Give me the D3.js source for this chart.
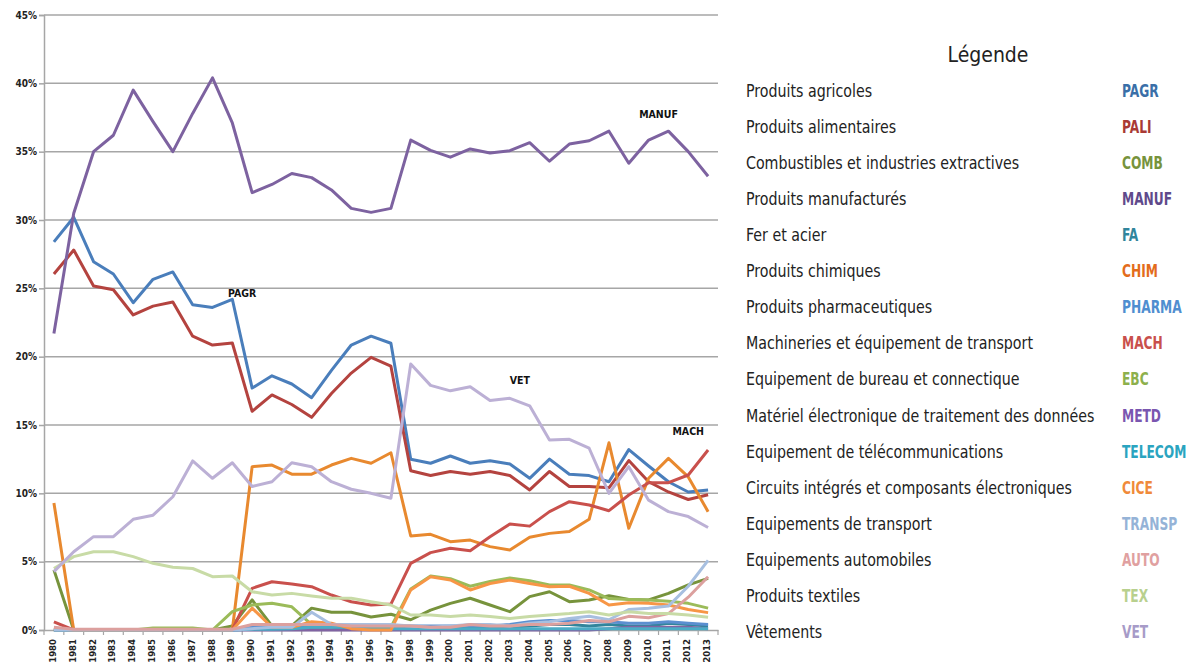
<!DOCTYPE html>
<html>
<head>
<meta charset="utf-8">
<script src="https://cdn.jsdelivr.net/npm/d3@7"></script>
<style>
  body { margin: 0; background: #fff; }
  svg { display: block; font-family: "DejaVu Sans Condensed", "Liberation Sans Narrow", sans-serif; }
</style>
</head>
<body>
<div id="chart"></div>
<script>
// years on the x axis
var years = ["1980","1981","1982","1983","1984","1985","1986","1987","1988","1989",
  "1990","1991","1992","1993","1994","1995","1996","1997","1998","1999",
  "2000","2001","2002","2003","2004","2005","2006","2007","2008","2009",
  "2010","2011","2012","2013"];

var yTicks = [0, 5, 10, 15, 20, 25, 30, 35, 40, 45];

// shares in %
var pagr = [28.4,30.2,26.95,26.05,23.95,25.66,26.2,23.8,23.6,24.2,17.7,18.6,18.0,17.0,19.0,20.85,21.5,20.98,12.5,12.2,12.73,12.2,12.39,12.15,11.1,12.5,11.4,11.3,10.85,13.2,12.0,10.85,10.1,10.25];
var pali = [26.05,27.8,25.17,24.9,23.05,23.7,24.0,21.5,20.85,21.0,16.0,17.2,16.5,15.56,17.3,18.8,19.95,19.3,11.65,11.3,11.6,11.4,11.6,11.3,10.25,11.6,10.5,10.5,10.4,12.4,10.85,10.1,9.55,9.9];
var comb = [4.4,0,0,0,0,0,0,0,0,0.3,2.2,0.3,0.3,1.6,1.3,1.3,0.95,1.15,0.75,1.46,1.95,2.32,1.83,1.34,2.44,2.8,2.07,2.2,2.5,2.24,2.2,2.68,3.3,3.78];
var manuf = [21.7,30.5,35.0,36.2,39.5,37.2,35.0,37.8,40.4,37.1,32.0,32.6,33.4,33.1,32.2,30.85,30.56,30.85,35.85,35.1,34.6,35.2,34.9,35.07,35.66,34.3,35.56,35.8,36.5,34.15,35.85,36.5,35.0,33.2];
var fa = [0,0,0,0,0,0,0,0,0,0,0.1,0.1,0.1,0.2,0.2,0.1,0.1,0.1,0.1,0.1,0.1,0.2,0.2,0.2,0.3,0.4,0.4,0.3,0.4,0.3,0.3,0.5,0.4,0.3];
var chim = [9.3,0,0,0,0,0,0,0,0,0,11.95,12.07,11.4,11.4,12.07,12.56,12.2,12.97,6.88,7.0,6.46,6.58,6.1,5.85,6.78,7.07,7.2,8.1,13.7,7.44,11.1,12.56,11.2,8.66];
var pharma = [0,0,0,0,0,0,0,0,0,0,0.2,0.3,0.3,0.3,0.3,0.3,0.3,0.3,0.3,0.3,0.3,0.3,0.3,0.4,0.6,0.7,0.7,0.6,0.6,0.5,0.5,0.6,0.5,0.4];
var mach = [0.6,0,0,0,0,0,0,0,0,0,3.05,3.53,3.37,3.17,2.56,2.07,1.83,1.9,4.88,5.66,5.98,5.8,6.83,7.76,7.6,8.66,9.39,9.15,8.73,9.88,10.78,10.78,11.34,13.17];
var ebc = [0,0,0,0,0,0.15,0.15,0.15,0,1.34,1.83,1.95,1.7,0.4,0.3,0.3,0.2,0.2,3.0,3.95,3.75,3.2,3.55,3.8,3.6,3.3,3.3,2.93,2.3,2.24,2.2,2.1,1.95,1.6];
var metd = [0,0,0,0,0,0,0,0,0,0,0,0,0,0,0,0,0,0,0,0,0,0,0,0,0,0,0,0,0.1,0.2,0.2,0.2,0.2,0.1];
var telecom = [0,0,0,0,0,0,0,0,0,0,0.05,0.05,0.1,0.2,0.2,0.2,0.1,0.1,0.1,0.1,0.1,0.1,0.1,0.1,0.1,0.1,0.1,0.1,0.1,0.1,0.1,0.1,0.1,0.1];
var cice = [0.1,0,0,0,0,0,0,0,0,0,1.6,0.2,0.2,0.6,0.5,0.1,0,0,2.93,3.9,3.66,2.93,3.4,3.66,3.4,3.17,3.2,2.68,1.83,2.0,1.95,1.83,1.5,1.27];
var transp = [0,0,0,0,0,0,0,0,0,0,0.1,0.2,0.2,1.3,0.4,0.4,0.4,0.4,0.3,0.2,0.3,0.4,0.4,0.3,0.5,0.6,0.85,1.0,0.75,1.5,1.6,1.75,3.2,5.1];
var auto = [0.2,0.05,0.05,0.05,0.05,0.05,0.05,0.05,0.05,0.05,0.4,0.4,0.4,0.4,0.4,0.3,0.3,0.3,0.3,0.2,0.2,0.4,0.3,0.3,0.4,0.4,0.5,0.7,0.6,1.0,0.9,1.2,2.4,3.9];
var tex = [4.5,5.37,5.73,5.73,5.37,4.88,4.59,4.5,3.9,3.95,2.8,2.56,2.68,2.49,2.32,2.32,2.07,1.83,1.1,1.1,0.98,1.1,0.98,0.85,0.98,1.1,1.2,1.34,1.1,1.34,1.2,1.2,1.1,0.93];
var vet = [4.27,5.73,6.83,6.83,8.1,8.4,9.75,12.37,11.1,12.24,10.5,10.85,12.24,11.95,10.85,10.3,10.0,9.64,19.46,17.9,17.5,17.8,16.8,16.95,16.4,13.9,13.95,13.3,10.0,11.95,9.5,8.66,8.3,7.5];

var series = [
  {code: "PAGR", name: "Produits agricoles", values: pagr, line: "#4a7ebb", text: "#3a6fa8"},
  {code: "PALI", name: "Produits alimentaires", values: pali, line: "#b4433f", text: "#a93a35"},
  {code: "COMB", name: "Combustibles et industries extractives", values: comb, line: "#77933c", text: "#77933c"},
  {code: "MANUF", name: "Produits manufacturés", values: manuf, line: "#7d62a0", text: "#5f4a8b"},
  {code: "FA", name: "Fer et acier", values: fa, line: "#31859c", text: "#31859c"},
  {code: "CHIM", name: "Produits chimiques", values: chim, line: "#e8892f", text: "#e36c1b"},
  {code: "PHARMA", name: "Produits pharmaceutiques", values: pharma, line: "#5b8fd0", text: "#4f8ed0"},
  {code: "MACH", name: "Machineries et équipement de transport", values: mach, line: "#c9504c", text: "#c9504c"},
  {code: "EBC", name: "Equipement de bureau et connectique", values: ebc, line: "#9bbb59", text: "#8db04c"},
  {code: "METD", name: "Matériel électronique de traitement des données", values: metd, line: "#8064a2", text: "#7a56b0"},
  {code: "TELECOM", name: "Equipement de télécommunications", values: telecom, line: "#4bacc6", text: "#2aa4c0"},
  {code: "CICE", name: "Circuits intégrés et composants électroniques", values: cice, line: "#f79646", text: "#f08a3a"},
  {code: "TRANSP", name: "Equipements de transport", values: transp, line: "#a7bfe0", text: "#95b3d7"},
  {code: "AUTO", name: "Equipements automobiles", values: auto, line: "#dca09e", text: "#e0a0a0"},
  {code: "TEX", name: "Produits textiles", values: tex, line: "#c8dba6", text: "#b8d08e"},
  {code: "VET", name: "Vêtements", values: vet, line: "#bcb0d5", text: "#a79bc8"}
];

// labels written inside the plot (year where they sit, value of their baseline)
var inlineLabels = [
  {code: "PAGR", year: "1990", edge: true, value: 24.4},
  {code: "MANUF", year: "2011", edge: true, value: 37.5},
  {code: "VET", year: "2004", edge: true, value: 18.0},
  {code: "MACH", year: "2012", edge: false, value: 14.3}
];

var width = 1188, height = 663;
var plotLeft = 44, plotRight = 718, plotTop = 15, plotBottom = 630;

var svg = d3.select("#chart").append("svg")
  .attr("width", width)
  .attr("height", height);

var x = d3.scaleBand().domain(years).range([plotLeft, plotRight]);
var y = d3.scaleLinear().domain([0, 45]).range([plotBottom, plotTop]);

/* grid lines */
svg.append("g")
  .selectAll("line")
  .data(yTicks.slice(1))
  .enter().append("line")
  .attr("x1", plotLeft).attr("x2", plotRight)
  .attr("y1", function (d) { return y(d); })
  .attr("y2", function (d) { return y(d); })
  .attr("stroke", "#a6a6a6")
  .attr("stroke-width", 1.5);

/* y axis */
var yAxis = svg.append("g")
  .attr("transform", "translate(" + plotLeft + ",0)")
  .call(d3.axisLeft(y).tickValues(yTicks).tickSize(5).tickFormat(function (d) { return d + "%"; }));
yAxis.select(".domain").attr("stroke", "#a6a6a6").attr("stroke-width", 1.5);
yAxis.selectAll(".tick line").attr("stroke", "#a6a6a6").attr("stroke-width", 1.5);
yAxis.selectAll("text")
  .attr("font-family", "'DejaVu Sans Condensed', sans-serif")
  .attr("font-size", 10)
  .attr("font-weight", "bold")
  .attr("fill", "#222")
  .attr("x", -7);

/* x axis */
var xAxis = svg.append("g")
  .attr("transform", "translate(0," + plotBottom + ")")
  .call(d3.axisBottom(x).tickSize(0));
xAxis.select(".domain").attr("stroke", "#a6a6a6").attr("stroke-width", 1.5);
xAxis.selectAll("text")
  .attr("font-family", "'DejaVu Sans Condensed', sans-serif")
  .attr("font-size", 9.5)
  .attr("font-weight", "bold")
  .attr("fill", "#222")
  .attr("transform", "rotate(-90)")
  .attr("text-anchor", "end")
  .attr("x", -9)
  .attr("y", -1)
  .attr("dy", "0.32em");

// small ticks between the years
svg.append("g")
  .selectAll("line")
  .data(years.concat(["end"]))
  .enter().append("line")
  .attr("x1", function (d, i) { return plotLeft + i * x.step(); })
  .attr("x2", function (d, i) { return plotLeft + i * x.step(); })
  .attr("y1", plotBottom)
  .attr("y2", plotBottom + 5)
  .attr("stroke", "#a6a6a6")
  .attr("stroke-width", 1.2);

/* series lines */
var line = d3.line()
  .x(function (d, i) { return x(years[i]) + x.bandwidth() / 2; })
  .y(function (d) { return y(d); });

svg.append("g")
  .selectAll("path")
  .data(series)
  .enter().append("path")
  .attr("d", function (d) { return line(d.values); })
  .attr("fill", "none")
  .attr("stroke", function (d) { return d.line; })
  .attr("stroke-width", 3)
  .attr("stroke-linejoin", "round");

/* inline labels */
svg.append("g")
  .selectAll("text")
  .data(inlineLabels)
  .enter().append("text")
  .attr("x", function (d) { return d.edge ? x(d.year) : x(d.year) + x.bandwidth() / 2; })
  .attr("y", function (d) { return y(d.value); })
  .attr("text-anchor", "middle")
  .attr("font-size", 10.5)
  .attr("font-weight", "bold")
  .attr("fill", "#111")
  .text(function (d) { return d.code; });

/* legend */
var legend = svg.append("g");
legend.append("text")
  .attr("x", 988)
  .attr("y", 62)
  .attr("text-anchor", "middle")
  .attr("font-size", 21)
  .attr("fill", "#222")
  .text("Légende");

var rowY = d3.scalePoint().domain(series.map(function (d) { return d.code; })).range([91, 632]);

var rows = legend.selectAll("g.row")
  .data(series)
  .enter().append("g")
  .attr("class", "row")
  .attr("transform", function (d) { return "translate(0," + rowY(d.code) + ")"; });

// the original font is narrower: squeeze the texts horizontally
rows.append("text")
  .attr("transform", "translate(746,0) scale(0.93,1)")
  .attr("dy", "0.35em")
  .attr("font-size", 17)
  .attr("fill", "#222")
  .text(function (d) { return d.name; });

rows.append("text")
  .attr("transform", "translate(1122,0) scale(0.8,1)")
  .attr("dy", "0.35em")
  .attr("font-size", 17)
  .attr("font-weight", "bold")
  .attr("fill", function (d) { return d.text; })
  .text(function (d) { return d.code; });
</script>
</body>
</html>
